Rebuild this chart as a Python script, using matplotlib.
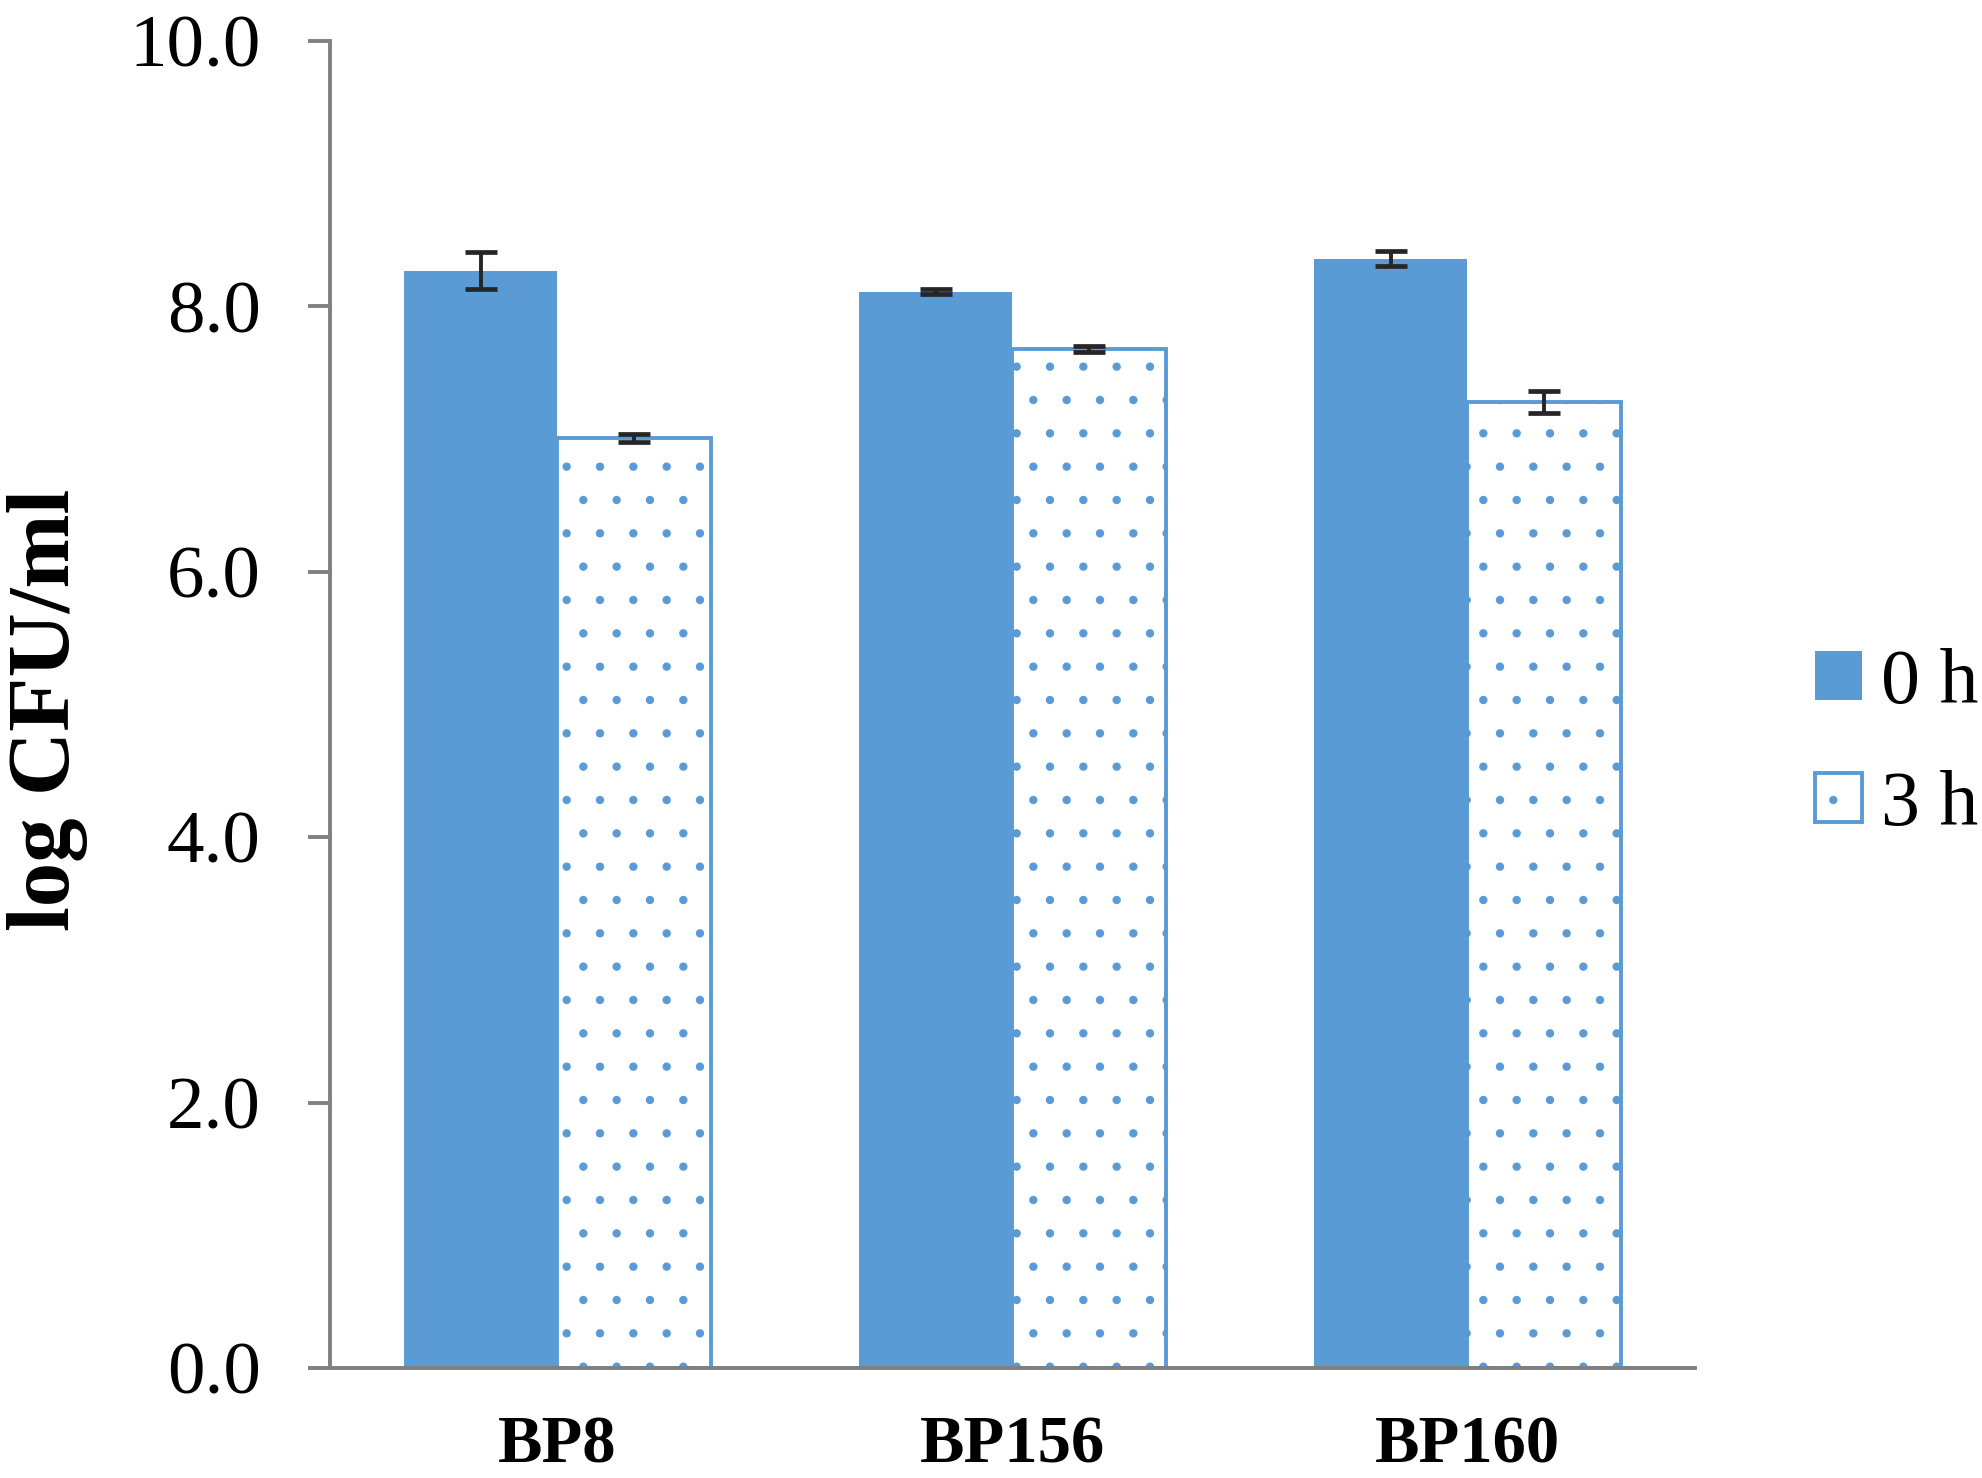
import matplotlib
matplotlib.use('Agg')
import matplotlib.pyplot as plt
import numpy as np

# data
strains = ['BP8', 'BP156', 'BP160']
cfu_0h = [8.27, 8.11, 8.36]
err_0h = [0.14, 0.02, 0.055]
cfu_3h = [7.01, 7.68, 7.28]
err_3h = [0.03, 0.02, 0.08]
yticks = [0, 2, 4, 6, 8, 10]

blue = '#5B9BD5'
grey = '#808080'

plt.rcParams['font.family'] = ['Liberation Serif', 'DejaVu Serif']
plt.rcParams['hatch.linewidth'] = 0.6

fig = plt.figure(figsize=(9.915, 7.39), dpi=200)
ax = fig.add_axes([330/1983, 1 - 1368/1478, 1365/1983, 1327/1478])

x = np.arange(len(strains))
w = 0.337

ax.bar(x - w/2, cfu_0h, w, color=blue, linewidth=0, label='0 h', zorder=2)
ax.bar(x + w/2, cfu_3h, w, facecolor='white', edgecolor=blue, linewidth=1.4,
       hatch='.', label='3 h', zorder=2)

# error bars
ax.errorbar(x - w/2, cfu_0h, yerr=err_0h, fmt='none', ecolor='#262626',
            elinewidth=1.4, capsize=5.8, capthick=1.7, zorder=3)
ax.errorbar(x + w/2, cfu_3h, yerr=err_3h, fmt='none', ecolor='#262626',
            elinewidth=1.4, capsize=5.8, capthick=1.7, zorder=3)

ax.set_xlim(-0.5, 2.5)
ax.set_ylim(0, 10)
ax.set_yticks(yticks)
ax.set_yticklabels([f'{v:.1f}' for v in yticks], fontsize=27)
ax.set_xticks(x)
ax.set_xticklabels(strains, fontsize=24, fontweight='bold')

for s in ['top', 'right']:
    ax.spines[s].set_visible(False)
for s in ['left', 'bottom']:
    ax.spines[s].set_color(grey)
    ax.spines[s].set_linewidth(1.4)
    ax.spines[s].set_zorder(4)

ax.tick_params(axis='y', direction='out', length=8, width=1.4, color=grey, pad=17)
ax.tick_params(axis='x', length=0, pad=17)

fig.text(48/1983, 1 - 710/1478, 'log CFU/ml', rotation=90, ha='center',
         va='center', fontsize=32, fontweight='bold')

fig.legend(loc='center left', bbox_to_anchor=(1815/1983, 1 - 745/1478),
           frameon=False, fontsize=28, handlelength=0.6, handleheight=0.6,
           handletextpad=0.25, labelspacing=0.65, borderpad=0, borderaxespad=0)

fig.savefig('out.png', dpi=200)
